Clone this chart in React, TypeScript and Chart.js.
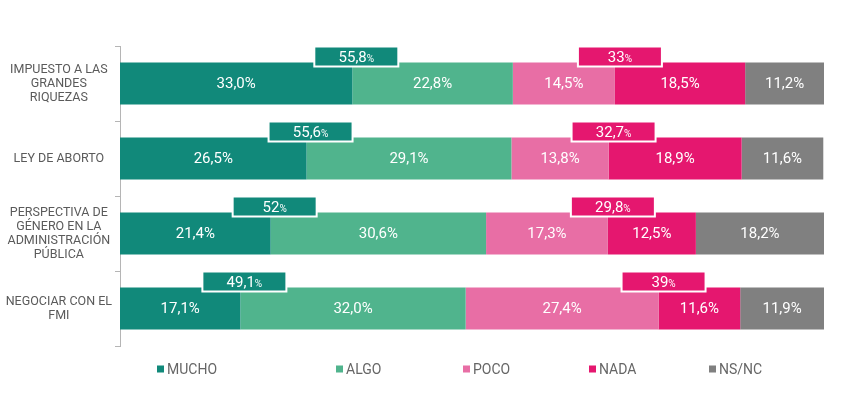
import { useEffect, useRef } from 'react';
import { Chart, registerables } from 'chart.js';

Chart.register(...registerables);

const categories = [
  ['IMPUESTO A LAS', 'GRANDES', 'RIQUEZAS'],
  ['LEY DE ABORTO'],
  ['PERSPECTIVA DE', 'GÉNERO EN LA', 'ADMINISTRACIÓN', 'PÚBLICA'],
  ['NEGOCIAR CON EL', 'FMI'],
];
const seriesNames = ['MUCHO', 'ALGO', 'POCO', 'NADA', 'NS/NC'];
const mucho = [33.0, 26.5, 21.4, 17.1];
const algo = [22.8, 29.1, 30.6, 32.0];
const poco = [14.5, 13.8, 17.3, 27.4];
const nada = [18.5, 18.9, 12.5, 11.6];
const nsnc = [11.2, 11.6, 18.2, 11.9];
const agreeTotals = [55.8, 55.6, 52, 49.1];
const disagreeTotals = [33, 32.7, 29.8, 39];

const COLORS = ['#11897a', '#50b48d', '#e86ea5', '#e5176f', '#808080'];
const FONT = 'Roboto, "DejaVu Sans", sans-serif';
const LEGEND_X = [157, 336, 463, 589, 709];

const fmtBar = (v: number) => v.toFixed(1).replace('.', ',') + '%';
const fmtTotal = (v: number) => (Number.isInteger(v) ? String(v) : v.toFixed(1).replace('.', ','));

const labelsPlugin = {
  id: 'labelsPlugin',
  afterDatasetsDraw(chart: any) {
    const ctx = chart.ctx;
    ctx.save();
    // bar value labels
    ctx.fillStyle = '#ffffff';
    ctx.font = `15px ${FONT}`;
    ctx.textAlign = 'center';
    ctx.textBaseline = 'middle';
    chart.data.datasets.forEach((ds: any, di: number) => {
      const meta = chart.getDatasetMeta(di);
      meta.data.forEach((bar: any, i: number) => {
        const p = bar.getProps(['x', 'y', 'base'], true);
        ctx.fillText(fmtBar(ds.data[i]), (p.x + p.base) / 2, p.y + 1);
      });
    });
    // summary boxes
    const drawBox = (cx: number, top: number, color: string, value: number) => {
      const w = 84;
      const h = 20;
      ctx.fillStyle = color;
      ctx.fillRect(cx - w / 2, top, w, h);
      ctx.strokeStyle = '#ffffff';
      ctx.lineWidth = 2;
      ctx.strokeRect(cx - w / 2, top, w, h);
      const num = fmtTotal(value);
      ctx.font = `15px ${FONT}`;
      const nw = ctx.measureText(num).width;
      ctx.font = `10px ${FONT}`;
      const pw = ctx.measureText('%').width;
      const start = cx - (nw + pw) / 2;
      ctx.fillStyle = '#ffffff';
      ctx.textAlign = 'left';
      ctx.textBaseline = 'alphabetic';
      ctx.font = `15px ${FONT}`;
      ctx.fillText(num, start, top + h / 2 + 5);
      ctx.font = `10px ${FONT}`;
      ctx.fillText('%', start + nw, top + h / 2 + 5);
    };
    const m0 = chart.getDatasetMeta(0);
    const m2 = chart.getDatasetMeta(2);
    m0.data.forEach((bar: any, i: number) => {
      const p = bar.getProps(['x', 'y', 'height'], true);
      const top = p.y - p.height / 2 - 16;
      drawBox(p.x + 4, top, COLORS[0], agreeTotals[i]);
      const q = m2.data[i].getProps(['x'], true);
      drawBox(q.x + 5, top, COLORS[3], disagreeTotals[i]);
    });
    // legend
    ctx.font = `14px ${FONT}`;
    ctx.textAlign = 'left';
    ctx.textBaseline = 'middle';
    const ly = 369;
    seriesNames.forEach((name, i) => {
      ctx.fillStyle = COLORS[i];
      ctx.fillRect(LEGEND_X[i], ly - 3.5, 7, 7);
      ctx.fillStyle = '#666666';
      ctx.fillText(name, LEGEND_X[i] + 10, ly + 1);
    });
    ctx.restore();
  },
};

export default function App() {
  const ref = useRef<HTMLCanvasElement | null>(null);
  useEffect(() => {
    if (!ref.current) return;
    const values = [mucho, algo, poco, nada, nsnc];
    const chart = new Chart(ref.current, {
      type: 'bar',
      data: {
        labels: categories,
        datasets: seriesNames.map((name, i) => ({
          label: name,
          data: values[i],
          backgroundColor: COLORS[i],
          borderWidth: 0,
          categoryPercentage: 1,
          barPercentage: 0.56,
        })),
      },
      options: {
        indexAxis: 'y',
        animation: false,
        responsive: false,
        maintainAspectRatio: false,
        layout: { padding: { top: 46, right: 38, bottom: 47, left: 0 } },
        plugins: {
          legend: { display: false },
          tooltip: { enabled: false },
        },
        scales: {
          x: { stacked: true, min: 0, max: 100, display: false },
          y: {
            stacked: true,
            grid: {
              display: true,
              drawOnChartArea: false,
              drawTicks: true,
              tickLength: 5,
              offset: true,
              color: '#b5b5b5',
            },
            border: { display: true, color: '#b5b5b5' },
            ticks: {
              crossAlign: 'center',
              color: '#5a5a5a',
              font: { family: FONT, size: 12.5, lineHeight: 1.12 },
            },
            afterFit: (scale: any) => {
              scale.width = 120;
            },
          },
        },
      },
      plugins: [labelsPlugin],
    });
    return () => chart.destroy();
  }, []);
  return (
    <div style={{ position: 'absolute', left: 0, top: 0, width: 862, height: 393, background: '#fff' }}>
      <canvas ref={ref} width={862} height={393} style={{ width: 862, height: 393 }} />
    </div>
  );
}
